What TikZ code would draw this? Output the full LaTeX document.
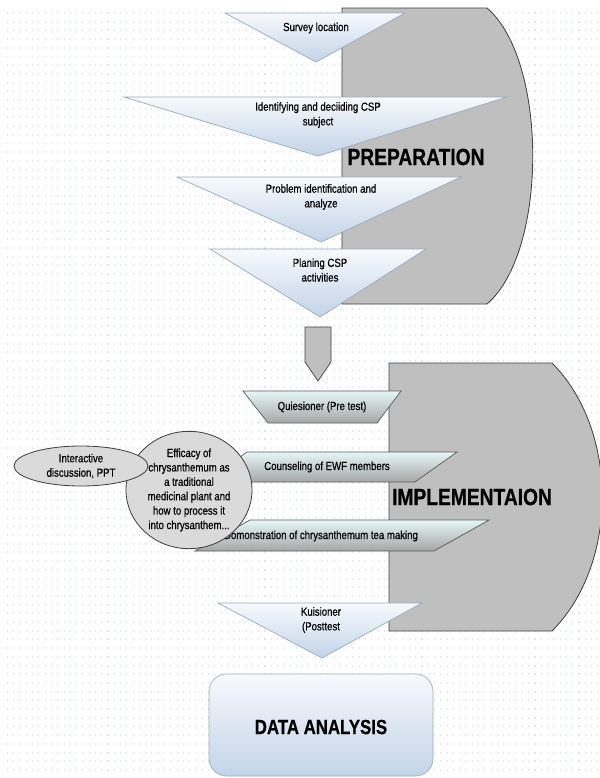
\documentclass[tikz,border=0pt]{standalone}
\usepackage{fontspec}
\setmainfont{Liberation Sans}[FakeStretch=0.82, FakeBold=0.6]
\usepackage{tikz}
\usetikzlibrary{shapes.geometric}
\usepackage{xcolor}
\definecolor{StageGray}{HTML}{BFBFBF}
\definecolor{StageEdge}{HTML}{404040}
\definecolor{FunnelTop}{HTML}{F7FAFD}
\definecolor{FunnelBottom}{HTML}{C3D3E8}
\definecolor{FunnelEdge}{HTML}{9AAABD}
\definecolor{BandTop}{HTML}{E6F7F7}
\definecolor{BandMid}{HTML}{EEF3F3}
\definecolor{BandBottom}{HTML}{A6A6A6}
\definecolor{BandEdge}{HTML}{5A5A5A}
\definecolor{BubbleGray}{HTML}{DADADA}
\definecolor{BubbleEdge}{HTML}{404040}
\definecolor{BoxEdge}{HTML}{A3ADB8}
\definecolor{Tick}{HTML}{DCE6EC}

\begin{document}
\begin{tikzpicture}[
    x=0.03cm, y=-0.03cm,
    stage/.style={draw=StageEdge, fill=StageGray, line width=0.7pt},
    funnel/.style={draw=FunnelEdge, line width=0.6pt,
        top color=FunnelTop, bottom color=FunnelBottom},
    band/.style={draw=BandEdge, line width=0.6pt,
        top color=BandTop, middle color=BandMid, bottom color=BandBottom},
    bubble/.style={draw=BubbleEdge, fill=BubbleGray, line width=0.7pt,
        ellipse, inner sep=0pt, align=center},
    lbl/.style={font=\fontsize{10}{12.5}\selectfont, align=center, inner sep=0pt},
    big/.style={font=\fontsize{20}{22}\selectfont\bfseries, inner sep=0pt},
    gridtick/.style={draw=Tick, line width=1.7pt,
        dash pattern=on 0.9pt off 4.46pt}
]
\useasboundingbox (0,0) rectangle (600,778);

% === Dotted background ===
\foreach \r in {0,...,88}
    \draw[gridtick] (7,{13+\r*8.7}) -- (600,{13+\r*8.7});

% === Preparation stage ===
\draw[stage] (342,8) -- (487,8) .. controls (548,60) and (548,252) .. (487,304)
    -- (342,304) -- cycle;
\node[big] (prep) at (416,157) {PREPARATION};

\draw[funnel] (225,13) -- (405,13) -- (316,62) -- cycle;
\node[lbl] (survey) at (316,28) {Survey location};

\draw[funnel] (124,97) -- (507,97) -- (318,156) -- cycle;
\node[lbl] (subject) at (318,115) {Identifying and deciiding CSP\\subject};

\draw[funnel] (177,177) -- (461,177) -- (321,242) -- cycle;
\node[lbl] (problem) at (321,197) {Problem identification and\\analyze};

\draw[funnel] (210,249) -- (426,249) -- (320,317) -- cycle;
\node[lbl] (plan) at (320,270) {Planing CSP\\activities};

% === Block arrow between stages ===
\draw[stage, line width=0.6pt] (305,327) -- (331,327) -- (331,362) -- (318,381)
    -- (305,362) -- cycle;

% === Implementation stage ===
\draw[stage] (389,363) -- (552,363) .. controls (619,430) and (619,564) .. (552,631)
    -- (389,631) -- cycle;
\node[big] (impl) at (472,497) {IMPLEMENTAION};

\draw[band] (243,391) -- (401,391) -- (377,423) -- (268,423) -- cycle;
\node[lbl] (pretest) at (322,407) {Quiesioner (Pre test)};

\draw[band] (247,452) -- (457,452) -- (415,482) -- (205,482) -- cycle;
\node[lbl] (counsel) at (327,467) {Counseling of EWF members};

\draw[band] (250,520) -- (489,520) -- (434,551) -- (195,551) -- cycle;
\node[lbl] (demo) at (321,536) {Domonstration of chrysanthemum tea making};

\node[bubble, minimum width=3.78cm, minimum height=3.18cm,
      font=\fontsize{10}{12.3}\selectfont] (efficacy) at (189,490)
    {Efficacy of\\chrysanthemum as\\a traditional\\medicinal plant and\\how to process it\\into chrysanthem...};
\node[bubble, minimum width=4.02cm, minimum height=1.2cm,
      font=\fontsize{10}{12.3}\selectfont] (discuss) at (81,466)
    {Interactive\\discussion, PPT};

% === Post test and analysis ===
\draw[funnel] (218,603) -- (422,603) -- (322,658) -- cycle;
\node[lbl] (posttest) at (321,620) {Kuisioner\\(Posttest};

\draw[draw=BoxEdge, line width=0.6pt, rounded corners=15,
      top color=FunnelTop, bottom color=FunnelBottom] (209,674) rectangle (433,776);
\node[big, font=\fontsize{17.5}{20}\selectfont\bfseries] (data) at (321,727) {DATA ANALYSIS};

\end{tikzpicture}
\end{document}
